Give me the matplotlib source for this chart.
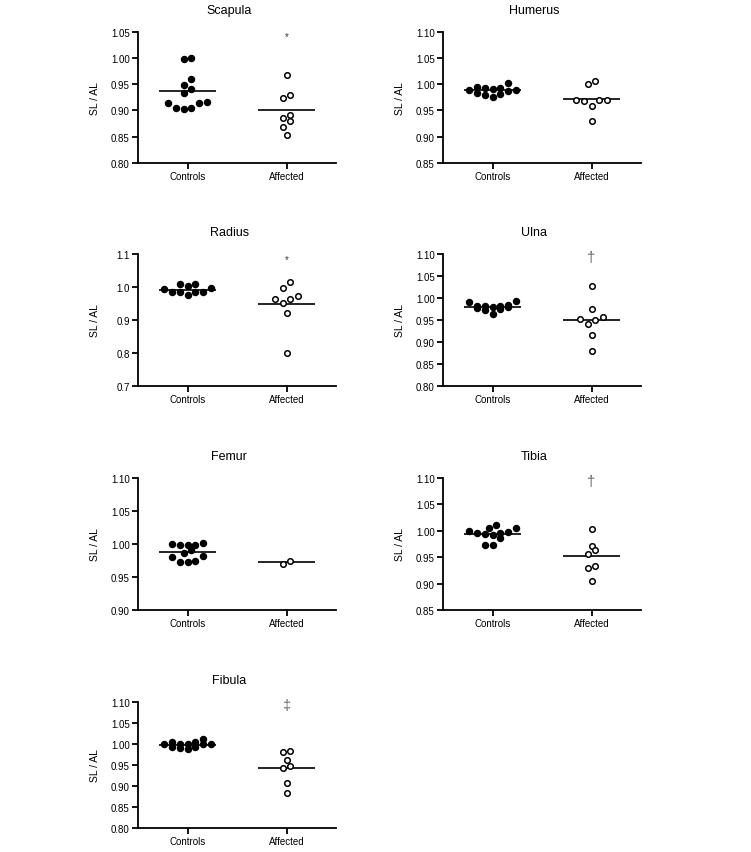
import numpy as np
import matplotlib
matplotlib.use("Agg")
import matplotlib.pyplot as plt

plt.rcParams['font.family'] = ['Liberation Sans', 'DejaVu Sans']

# ---------------- data ----------------
groups = ["Controls", "Affected"]

scapula_controls = [1.000, 0.997, 0.960, 0.949, 0.941, 0.933, 0.914, 0.905, 0.903, 0.904, 0.914, 0.916]
scapula_affected = [0.968, 0.929, 0.924, 0.892, 0.886, 0.879, 0.868, 0.853]

humerus_controls = [1.003, 0.994, 0.993, 0.992, 0.990, 0.989, 0.988, 0.986, 0.983, 0.982, 0.979, 0.976]
humerus_affected = [1.005, 1.001, 0.970, 0.970, 0.969, 0.967, 0.959, 0.929]

radius_controls = [0.996, 0.984, 1.008, 0.984, 1.003, 0.977, 1.008, 0.984, 0.984, 0.994]
radius_affected = [1.015, 0.996, 0.972, 0.965, 0.965, 0.951, 0.921, 0.799]

ulna_controls = [0.993, 0.979, 0.982, 0.975, 0.985, 0.964, 0.982, 0.972, 0.982, 0.977, 0.991, 0.980]
ulna_affected = [1.027, 0.975, 0.957, 0.953, 0.949, 0.942, 0.915, 0.880]

femur_controls = [0.999, 1.000, 1.001, 0.999, 0.998, 0.991, 0.986, 0.982, 0.981, 0.975, 0.972, 0.973]
femur_affected = [0.970, 0.975]

tibia_controls = [1.000, 0.996, 1.006, 1.011, 1.005, 0.986, 0.993, 0.992, 0.996, 0.998, 0.974, 0.974]
tibia_affected = [1.003, 0.971, 0.963, 0.957, 0.934, 0.930, 0.905]

fibula_controls = [0.999, 0.999, 1.004, 0.994, 1.011, 0.999, 0.988, 1.004, 0.991, 0.999, 0.994, 0.999]
fibula_affected = [0.983, 0.982, 0.962, 0.947, 0.944, 0.906, 0.884]

panel_titles = ["Scapula", "Humerus", "Radius", "Ulna", "Femur", "Tibia", "Fibula"]
panel_data = [
    (scapula_controls, scapula_affected),
    (humerus_controls, humerus_affected),
    (radius_controls, radius_affected),
    (ulna_controls, ulna_affected),
    (femur_controls, femur_affected),
    (tibia_controls, tibia_affected),
    (fibula_controls, fibula_affected),
]
y_limits = [(0.80, 1.05), (0.85, 1.10), (0.7, 1.1), (0.80, 1.10), (0.90, 1.10), (0.85, 1.10), (0.80, 1.10)]
y_steps = [0.05, 0.05, 0.1, 0.05, 0.05, 0.05, 0.05]
y_decimals = [2, 2, 1, 2, 2, 2, 2]
significance = ["*", "", "*", "\u2020", "", "\u2020", "\u2021"]
y_label = "SL / AL"

# ---------------- layout ----------------
W, H = 751, 853
fig = plt.figure(figsize=(W / 100, H / 100), dpi=100)

col_left = [138, 443]
ax_w = 198
rows_px = [(32.5, 164), (255, 387), (479, 611), (703, 829)]


def swarm_offsets(values, px_per_unit, step=0.16, thresh_px=7.0, max_row=7):
    values = np.asarray(values, dtype=float)
    n = len(values)
    order = np.argsort(values, kind="stable")
    offs = np.zeros(n)
    thr = thresh_px / px_per_unit
    i = 0
    while i < n:
        j = i
        while (j + 1 < n and values[order[j + 1]] - values[order[i]] < thr
               and (j + 1 - i) < max_row):
            j += 1
        row = order[i:j + 1]
        k = len(row)
        if k % 2 == 0:
            slots = []
            for m in range(k // 2):
                slots += [-(m + 0.5), (m + 0.5)]
        else:
            slots = [0.0]
            for m in range(1, k // 2 + 1):
                slots += [-m, m]
        for idx, s in zip(row, slots):
            offs[idx] = s * step
        i = j + 1
    return offs


spine_lw = 1.3
for p, title in enumerate(panel_titles):
    r, c = divmod(p, 2)
    top, bot = rows_px[r]
    rect = [col_left[c] / W, 1 - bot / H, ax_w / W, (bot - top) / H]
    ax = fig.add_axes(rect)
    y0, y1 = y_limits[p]
    ax.set_ylim(y0, y1)
    ax.set_xlim(0, 4)
    ax.spines['top'].set_visible(False)
    ax.spines['right'].set_visible(False)
    for s in ('left', 'bottom'):
        ax.spines[s].set_linewidth(spine_lw)
    ticks = np.round(np.arange(y0, y1 + 1e-9, y_steps[p]), 3)
    ax.set_yticks(ticks)
    ax.set_yticklabels([f"{t:.{y_decimals[p]}f}" for t in ticks], fontsize=7)
    ax.set_xticks([1, 3])
    ax.set_xticklabels(groups, fontsize=7)
    ax.tick_params(axis='both', direction='out', length=4, width=spine_lw, pad=2)

    px_per_unit = (bot - top) / (y1 - y0)
    ctrl, aff = panel_data[p]
    for gi, (vals, filled) in enumerate([(ctrl, True), (aff, False)]):
        xc = 1 + 2 * gi
        offs = swarm_offsets(vals, px_per_unit)
        if filled:
            ax.scatter(xc + offs, vals, s=19, color='black', zorder=3, clip_on=False)
        else:
            ax.scatter(xc + offs, vals, s=16, facecolor='white', edgecolor='black',
                       linewidths=1.1, zorder=3, clip_on=False)
        m = float(np.mean(vals))
        ax.hlines(m, xc - 0.58, xc + 0.58, color='black', lw=1.2, zorder=2)

    ax.text(0.46, 1.0 + 22 / (bot - top), title, transform=ax.transAxes,
            ha='center', va='center', fontsize=9)
    ax.text(-0.217, 0.5, y_label, transform=ax.transAxes, rotation=90,
            ha='center', va='center', fontsize=7.5)
    if significance[p]:
        if significance[p] == "*":
            ax.text(3, 0.965, "*", transform=ax.get_xaxis_transform(),
                    ha='center', va='center', fontsize=7, color='#333333')
        else:
            ax.text(3, 0.975, significance[p], transform=ax.get_xaxis_transform(),
                    ha='center', va='center', fontsize=10.5, color='#666666')

fig.savefig("out.png", dpi=100)
